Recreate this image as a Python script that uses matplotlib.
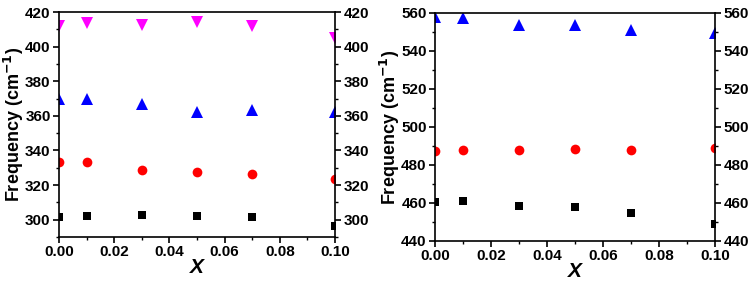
import matplotlib
matplotlib.use("Agg")
import matplotlib.pyplot as plt
from matplotlib.ticker import MultipleLocator

plt.rcParams['font.family'] = ['Liberation Sans', 'DejaVu Sans']
plt.rcParams['font.weight'] = 'bold'

x = [0.0, 0.01, 0.03, 0.05, 0.07, 0.10]

# left panel
left_magenta = [412, 413.5, 412.5, 414.5, 412, 405]
left_blue = [369.5, 370, 367, 362.5, 363.5, 362.5]
left_red = [333.5, 333.5, 328.5, 327.5, 326.5, 323.5]
left_black = [301.5, 302, 302.5, 302, 301.5, 296.5]

# right panel
right_blue = [558, 557.5, 553.5, 553.5, 551, 549.5]
right_red = [487.5, 488, 488, 488.5, 488, 489]
right_black = [460.5, 461, 458.5, 458, 455, 449]

xticks = [0.00, 0.02, 0.04, 0.06, 0.08, 0.10]
xticklabels = ['0.00', '0.02', '0.04', '0.06', '0.08', '0.10']

fig = plt.figure(figsize=(7.52, 2.83), dpi=100)
W, H = 752, 283

def make_ax(l, r, t, b):
    return fig.add_axes([l / W, 1 - b / H, (r - l) / W, (b - t) / H])

ax1 = make_ax(59, 335, 12, 237)
ax2 = make_ax(435, 715, 13, 241)

def draw(ax, series, ylim, yticks, label_x):
    for vals, c, m, s in series:
        ax.plot(x, vals, linestyle='none', marker=m, color=c, markersize=s,
                markeredgewidth=0)
    ax.set_xlim(0, 0.10)
    ax.set_ylim(*ylim)
    ax.set_xticks(xticks)
    ax.set_xticklabels(xticklabels)
    ax.xaxis.set_minor_locator(MultipleLocator(0.01))
    ax.set_yticks(yticks)
    ax.yaxis.set_minor_locator(MultipleLocator(10))
    ax.tick_params(axis='both', which='major', direction='out', length=4, width=1.2,
                   labelsize=11, pad=2)
    ax.tick_params(axis='both', which='minor', direction='out', length=2.5, width=1.0)
    ax.tick_params(axis='y', which='both', left=True, right=True, labelleft=True, labelright=True)
    for sp in ax.spines.values():
        sp.set_linewidth(1.2)
    for lab in ax.get_xticklabels() + ax.get_yticklabels():
        lab.set_fontweight('bold')
    ax.set_xlabel('X', fontsize=15, fontstyle='italic', fontweight='bold', labelpad=-1)
    ax.set_ylabel('Frequency (cm$^{\\mathbf{-1}}$)', fontsize=13, fontweight='bold')
    ax.yaxis.set_label_coords(label_x, 0.5)

draw(ax1, [(left_black, 'black', 's', 6),
           (left_red, 'red', 'o', 7),
           (left_blue, 'blue', '^', 8),
           (left_magenta, 'magenta', 'v', 8)],
     (290, 420), [300, 320, 340, 360, 380, 400, 420], (26 - 59) / 276)

draw(ax2, [(right_black, 'black', 's', 6),
           (right_red, 'red', 'o', 7),
           (right_blue, 'blue', '^', 8)],
     (440, 560), [440, 460, 480, 500, 520, 540, 560], (402 - 435) / 280)

fig.savefig('out.png', dpi=100)
